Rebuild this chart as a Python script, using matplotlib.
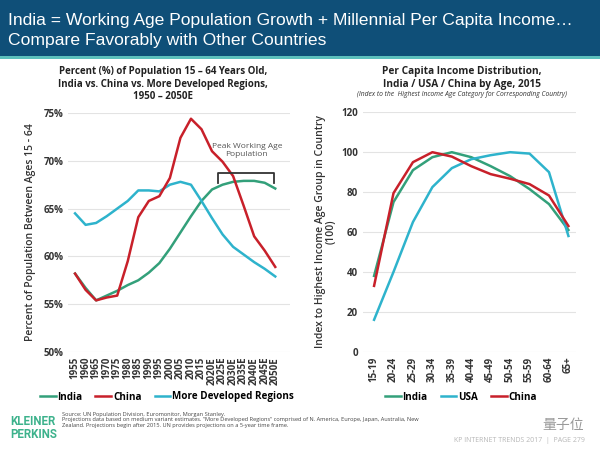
import matplotlib
matplotlib.use('Agg')
import matplotlib.pyplot as plt
from matplotlib.patches import Rectangle

# left chart: share of population aged 15-64 (%)
years = ['1955', '1960', '1965', '1970', '1975', '1980', '1985', '1990', '1995', '2000',
         '2005', '2010', '2015', '2020E', '2025E', '2030E', '2035E', '2040E', '2045E', '2050E']
india_pop = [58.2, 56.7, 55.4, 55.9, 56.4, 57.0, 57.5, 58.3, 59.3, 60.8,
             62.5, 64.2, 65.8, 67.0, 67.5, 67.8, 67.9, 67.9, 67.7, 67.1]
china_pop = [58.2, 56.5, 55.4, 55.7, 55.9, 59.5, 64.1, 65.8, 66.3, 68.2,
             72.4, 74.4, 73.3, 71.0, 69.9, 68.4, 65.3, 62.1, 60.6, 58.9]
developed_pop = [64.5, 63.3, 63.5, 64.2, 65.0, 65.8, 66.9, 66.9, 66.8, 67.5,
                 67.8, 67.5, 65.8, 64.0, 62.3, 61.0, 60.2, 59.4, 58.7, 57.9]

# right chart: per capita income index by age group, 2015
age_groups = ['15-19', '20-24', '25-29', '30-34', '35-39', '40-44', '45-49',
              '50-54', '55-59', '60-64', '65+']
india_inc = [38, 75, 91, 97.5, 100, 97.5, 93, 88, 81.5, 74, 61]
usa_inc = [16, 40, 65, 82.5, 92, 96.5, 98.5, 100, 99.3, 90, 58]
china_inc = [33, 79.5, 95, 100, 97.8, 93, 89, 86.7, 84, 78.3, 63]

GREEN = '#33a07a'
CYAN = '#2eb3cc'
RED = '#c8202a'
TXT = '#333333'

plt.rcParams['font.family'] = ['Open Sans', 'DejaVu Sans']

fig = plt.figure(figsize=(6, 4.5), dpi=100)
fig.patch.set_facecolor('white')

# header band
fig.add_artist(Rectangle((0, 1 - 56 / 450), 1, 56 / 450, transform=fig.transFigure,
                         facecolor='#0f4f78', edgecolor='none', zorder=0))
fig.add_artist(Rectangle((0, 1 - 59 / 450), 1, 3 / 450, transform=fig.transFigure,
                         facecolor='#5cc0bd', edgecolor='none', zorder=0))
head_font = ['Liberation Sans', 'DejaVu Sans']
fig.text(8 / 600, 1 - 20 / 450, 'India = Working Age Population Growth + Millennial Per Capita Income…',
         color='white', fontsize=12.6, family=head_font, va='center')
fig.text(8 / 600, 1 - 41 / 450, 'Compare Favorably with Other Countries',
         color='white', fontsize=12.6, family=head_font, va='center')


def style_axes(ax):
    for s in ax.spines.values():
        s.set_visible(False)
    ax.grid(axis='y', color='#e3e3e3', linewidth=0.8)
    ax.set_axisbelow(True)
    ax.tick_params(length=0, colors=TXT, labelsize=7)
    for lab in ax.get_yticklabels():
        lab.set_fontweight('bold')
    for lab in ax.get_xticklabels():
        lab.set_fontweight('bold')
        lab.set_rotation(90)


# ---- left chart ----
ax1 = fig.add_axes([68 / 600, 1 - 352 / 450, 222 / 600, 239 / 450])
x1 = range(len(years))
ax1.plot(x1, india_pop, color=GREEN, lw=1.8, label='India')
ax1.plot(x1, developed_pop, color=CYAN, lw=1.8, label='More Developed Regions')
ax1.plot(x1, china_pop, color=RED, lw=1.8, label='China')
ax1.set_xlim(-0.67, 20.4)
ax1.set_ylim(50, 75)
ax1.set_yticks([50, 55, 60, 65, 70, 75])
ax1.set_yticklabels(['%d%%' % v for v in [50, 55, 60, 65, 70, 75]])
ax1.set_xticks(list(x1))
ax1.set_xticklabels(years)
style_axes(ax1)
ax1.set_ylabel('Percent of Population Between Ages 15 - 64', fontsize=7.5,
               color=TXT, fontweight='semibold', labelpad=5)

# bracket + note
ax1.plot([13.6, 13.6, 18.9, 18.9], [67.7, 68.72, 68.72, 67.7], color='#333333', lw=1.3)
ax1.text(16.3, 71.1, 'Peak Working Age\nPopulation', ha='center', va='center',
         fontsize=6, color='#555555', linespacing=1.3)

fig.text(163 / 600, 1 - 84 / 450,
         'Percent (%) of Population 15 – 64 Years Old,\nIndia vs. China vs. More Developed Regions,\n1950 – 2050E',
         ha='center', va='center', fontsize=7.0, fontweight='bold', color='#222222', linespacing=1.2)

h = {l.get_label(): l for l in ax1.get_lines()}
fig.legend([h['India'], h['China'], h['More Developed Regions']],
           ['India', 'China', 'More Developed Regions'],
           loc='center', bbox_to_anchor=(167 / 600, 1 - 397 / 450), ncol=3, frameon=False,
           handlelength=1.6, handletextpad=0.2, columnspacing=1.3,
           prop={'weight': 'bold', 'size': 7.1})

# ---- right chart ----
ax2 = fig.add_axes([363 / 600, 1 - 351.7 / 450, 213 / 600, 239.4 / 450])
x2 = range(len(age_groups))
ax2.plot(x2, india_inc, color=GREEN, lw=1.8, label='India')
ax2.plot(x2, usa_inc, color=CYAN, lw=1.8, label='USA')
ax2.plot(x2, china_inc, color=RED, lw=1.8, label='China')
ax2.set_xlim(-0.57, 10.39)
ax2.set_ylim(0, 120)
ax2.set_yticks([0, 20, 40, 60, 80, 100, 120])
ax2.set_xticks(list(x2))
ax2.set_xticklabels(age_groups)
style_axes(ax2)
ax2.set_ylabel('Index to Highest Income Age Group in Country\n(100)', fontsize=7.5,
               color=TXT, fontweight='semibold', labelpad=3, linespacing=1.0)

fig.text(462 / 600, 1 - 78 / 450,
         'Per Capita Income Distribution,\nIndia / USA / China by Age, 2015',
         ha='center', va='center', fontsize=7.3, fontweight='bold', color='#222222', linespacing=1.2)
fig.text(462 / 600, 1 - 95 / 450,
         '(Index to the  Highest Income Age Category for Corresponding Country)',
         ha='center', va='center', fontsize=4.9, style='italic', color='#333333')

fig.legend(ax2.get_lines(), ['India', 'USA', 'China'],
           loc='center', bbox_to_anchor=(461 / 600, 1 - 397 / 450), ncol=3, frameon=False,
           handlelength=1.6, handletextpad=0.2, columnspacing=1.3,
           prop={'weight': 'bold', 'size': 7.1})

# ---- footer ----
fig.text(10 / 600, 1 - 428 / 450, 'KLEINER\nPERKINS', color='#3db28c', fontsize=8.3,
         fontweight='bold', family=['Roboto', 'DejaVu Sans'], va='center', ha='left',
         linespacing=1.0)
fig.text(62 / 600, 1 - 420 / 450,
         'Source: UN Population Division, Euromonitor, Morgan Stanley.\n'
         'Projections data based on medium variant estimates. "More Developed Regions" comprised of N. America, Europe, Japan, Australia, New\n'
         'Zealand. Projections begin after 2015. UN provides projections on a 5-year time frame.',
         fontsize=4.1, color='#444444', va='center', ha='left', linespacing=1.05)
fig.text(454 / 600, 1 - 441 / 450, 'KP INTERNET TRENDS 2017  |  PAGE 279', fontsize=5.0,
         color='#b8b8b8', va='center', ha='left')
fig.text(563 / 600, 1 - 425 / 450, '量子位', fontsize=10, color='#9a9a9a',
         family=['Noto Sans CJK SC', 'DejaVu Sans'], va='center', ha='center')

fig.savefig('out.png', dpi=100)
